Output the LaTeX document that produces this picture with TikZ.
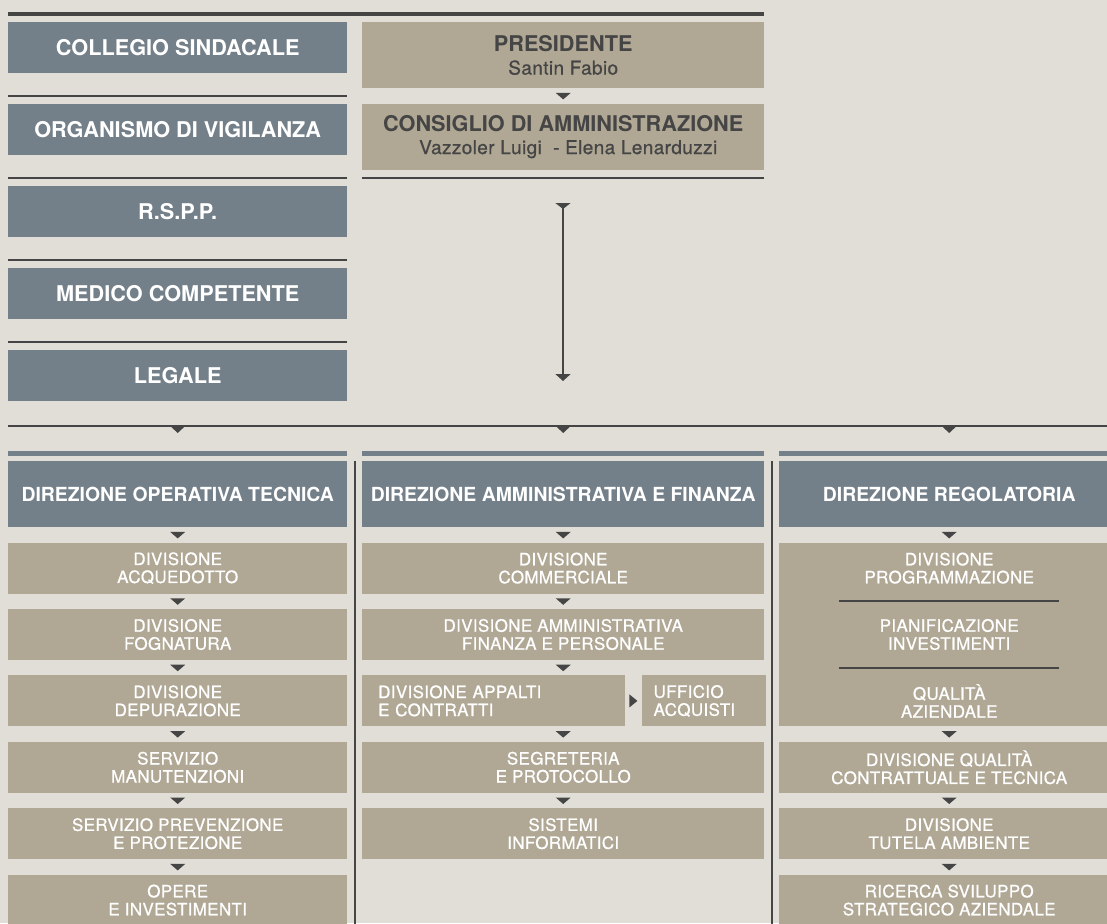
\documentclass[tikz,border=0pt]{standalone}
\usepackage{fontspec}
\setmainfont{TeX Gyre Heros}
\newfontfamily\medfont[FakeBold=0.8,LetterSpace=2]{TeX Gyre Heros}
\usetikzlibrary{positioning,calc,arrows.meta}
\definecolor{paper}{HTML}{E1DED7}
\definecolor{slate}{HTML}{748089}
\definecolor{sand}{HTML}{B0A895}
\definecolor{ink}{HTML}{454545}
\tikzset{
  side/.style={fill=slate, text=white, font=\fontsize{21.7}{24}\selectfont\bfseries,
    minimum width=339pt, minimum height=51pt, inner sep=0pt},
  head/.style={fill=sand, text=ink, font=\fontsize{21.7}{23}\selectfont\bfseries,
    minimum width=402pt, minimum height=66pt, inner sep=0pt, align=center},
  dir/.style={fill=slate, text=white, font=\fontsize{19.4}{22}\selectfont\bfseries,
    minimum height=66pt, inner sep=0pt},
  div/.style={fill=sand, text=white, font=\medfont\fontsize{17}{18}\selectfont,
    minimum height=51pt, inner sep=0pt, align=center},
  colA/.style={minimum width=339pt},
  colB/.style={minimum width=402pt},
  colC/.style={minimum width=340pt},
  rule/.style={draw=ink, line width=2pt}
}
\newcommand{\tridown}[2]{\fill[ink] ($(#1)!.5!(#2)$) +(-7.5pt,3pt) -- +(7.5pt,3pt) -- +(0pt,-3.5pt) -- cycle;}
\begin{document}
\begin{tikzpicture}[x=1pt, y=-1pt]
      \fill[paper] (0,0) rectangle (1107,923);
      \clip (0,0) rectangle (1107,923);

      % staff
      \fill[ink] (8,12) rectangle (764,16.5);
      \node[side, anchor=north west] (collegio) at (8,22) {COLLEGIO SINDACALE};
      \node[side, below=30.5pt of collegio] (odv) {ORGANISMO DI VIGILANZA};
      \node[side, below=30.5pt of odv] (rspp) {R.S.P.P.};
      \node[side, below=30.5pt of rspp] (medico) {MEDICO COMPETENTE};
      \node[side, below=30.5pt of medico] (legale) {LEGALE};
      \foreach \n in {collegio,odv,rspp,medico}
        \draw[rule] ([yshift=-23pt]\n.south west) -- ([yshift=-23pt]\n.south east);

      % top
      \node[head, anchor=north west] (pres) at (362,22)
        {PRESIDENTE\\{\medfont\mdseries\fontsize{19}{23}\selectfont Santin Fabio}};
      \node[head, below=15pt of pres] (cda)
        {CONSIGLIO DI AMMINISTRAZIONE\\{\medfont\mdseries\fontsize{19}{21}\selectfont\hspace*{10pt}Vazzoler Luigi\ \ - Elena Lenarduzzi}};
      \tridown{pres.south}{cda.north}
      \draw[rule] ([yshift=-8.5pt]cda.south west) -- ([yshift=-8.5pt]cda.south east);

      \coordinate (feedtop) at (563,203);
      \coordinate (feedbot) at (563,381);
      \draw[ink, line width=2pt, {Triangle[reversed,width=15pt,length=6pt]}-{Triangle[width=15pt,length=7pt]}]
        (feedtop) -- (feedbot);

      \coordinate (busW) at (8,426);
      \coordinate (busE) at (1107,426);
      \draw[ink, line width=1.3pt] (busW) -- (busE);

      % direzioni
      \node[dir, colA, anchor=north west] (dot) at (8,461) {DIREZIONE OPERATIVA TECNICA};
      \node[dir, colB, anchor=north west] (daf) at (362,461) {DIREZIONE AMMINISTRATIVA E FINANZA};
      \node[dir, colC, anchor=north west] (dreg) at (779,461) {DIREZIONE REGOLATORIA};
      \foreach \n in {dot,daf,dreg} {
        \fill[slate] ([yshift=5pt]\n.north west) rectangle ([yshift=10pt]\n.north east);
        \fill[ink] (busW -| \n.north) +(-7.5pt,0pt) -- +(7.5pt,0pt) -- +(0pt,-7pt) -- cycle;
      }
      \coordinate (sepA) at ($(dot.north east)!.5!(daf.north west)$);
      \coordinate (sepB) at ($(daf.north east)!.5!(dreg.north west)$);

      % operativa tecnica
      \node[div, colA, below=15pt of dot] (acq) {DIVISIONE\\ACQUEDOTTO};
      \node[div, colA, below=15pt of acq] (fogn) {DIVISIONE\\FOGNATURA};
      \node[div, colA, below=15pt of fogn] (dep) {DIVISIONE\\DEPURAZIONE};
      \node[div, colA, below=15pt of dep] (manut) {SERVIZIO\\MANUTENZIONI};
      \node[div, colA, below=15pt of manut] (prev) {SERVIZIO PREVENZIONE\\E PROTEZIONE};
      \node[div, colA, below=15pt of prev] (opere) {OPERE\\E INVESTIMENTI};
      \foreach \a/\b in {dot/acq,acq/fogn,fogn/dep,dep/manut,manut/prev,prev/opere}
        \tridown{\a.south}{\b.north};

      % amministrativa e finanza
      \node[div, colB, below=15pt of daf] (comm) {DIVISIONE\\COMMERCIALE};
      \node[div, colB, below=15pt of comm] (amm) {DIVISIONE AMMINISTRATIVA\\FINANZA E PERSONALE};
      \node[div, anchor=north west, text width=231pt, inner xsep=16pt, align=left] (appalti)
        at ([yshift=-15pt]amm.south west) {DIVISIONE APPALTI\\E CONTRATTI};
      \node[div, right=16pt of appalti, text width=100pt, inner xsep=12pt, align=left] (acquisti)
        {UFFICIO\\ACQUISTI};
      \node[div, colB, anchor=north] (segr) at ([yshift=-15pt]appalti.south -| amm.south)
        {SEGRETERIA\\E PROTOCOLLO};
      \node[div, colB, below=15pt of segr] (sist) {SISTEMI\\INFORMATICI};
      \foreach \a/\b in {daf/comm,comm/amm,segr/sist}
        \tridown{\a.south}{\b.north};
      \tridown{amm.south}{amm.south |- appalti.north}
      \tridown{segr.north |- appalti.south}{segr.north}
      \fill[ink] ($(appalti.east)!.5!(acquisti.west)$) +(-4pt,6.5pt) -- +(-4pt,-6.5pt) -- +(4pt,0pt) -- cycle;

      % regolatoria
      \node[div, colC, below=15pt of dreg] (prog) {DIVISIONE\\PROGRAMMAZIONE};
      \node[div, colC, below=15pt of prog] (pian) {PIANIFICAZIONE\\INVESTIMENTI};
      \node[div, colC, below=15pt of pian] (qual) {QUALITÀ\\AZIENDALE};
      \node[div, colC, below=15pt of qual] (qct) {DIVISIONE QUALITÀ\\CONTRATTUALE E TECNICA};
      \node[div, colC, below=15pt of qct] (tutela) {DIVISIONE\\TUTELA AMBIENTE};
      \node[div, colC, below=15pt of tutela] (ricerca) {RICERCA SVILUPPO\\STRATEGICO AZIENDALE};
      \foreach \a/\b in {prog/pian,pian/qual} {
        \fill[sand] (\a.south west) rectangle (\b.north east);
        \draw[rule] ($(\a.south)!.5!(\b.north)$) +(-110pt,0pt) -- +(110pt,0pt);
      }
      \foreach \a/\b in {dreg/prog,qual/qct,qct/tutela,tutela/ricerca}
        \tridown{\a.south}{\b.north};

      \draw[rule] (sepA) -- (sepA |- opere.south);
      \draw[rule] (sepB) -- (sepB |- ricerca.south);
\end{tikzpicture}
\end{document}
